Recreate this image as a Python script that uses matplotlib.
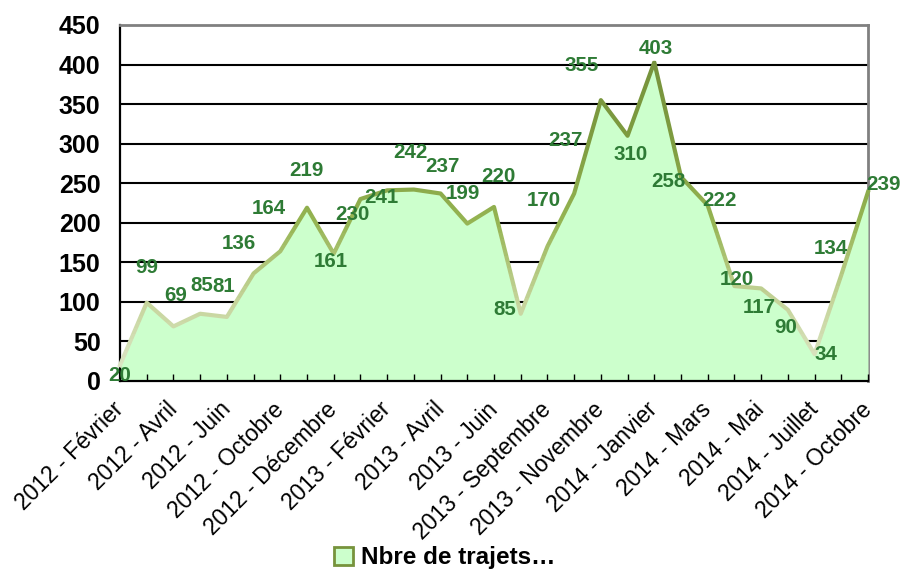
import numpy as np
import matplotlib.pyplot as plt
from matplotlib.colors import LinearSegmentedColormap
from matplotlib.patches import Rectangle, Patch

plt.rcParams['font.family'] = ['Liberation Sans', 'DejaVu Sans']

# ---- données ----
mois = ['2012 - Février', '2012 - Mars', '2012 - Avril', '2012 - Mai', '2012 - Juin',
        '2012 - Septembre', '2012 - Octobre', '2012 - Novembre', '2012 - Décembre',
        '2013 - Janvier', '2013 - Février', '2013 - Mars', '2013 - Avril', '2013 - Mai',
        '2013 - Juin', '2013 - Juillet', '2013 - Septembre', '2013 - Octobre',
        '2013 - Novembre', '2013 - Décembre', '2014 - Janvier', '2014 - Février',
        '2014 - Mars', '2014 - Avril', '2014 - Mai', '2014 - Juin', '2014 - Juillet',
        '2014 - Septembre', '2014 - Octobre']
trajets = [20, 99, 69, 85, 81, 136, 164, 219, 161, 230, 241, 242, 237, 199, 220,
           85, 170, 237, 355, 310, 403, 258, 222, 120, 117, 90, 34, 134, 239]
yticks = [0, 50, 100, 150, 200, 250, 300, 350, 400, 450]

# décalage des étiquettes (pixels) par point
label_dx = [0, 0, 2, 2, -3, -15, -11, -1, -3, -8, -6, -3, 2, -4, 4,
            -16, -4, -9, -19, 3, 2, -13, 12, 2, -2, -2, 11, -10, 16]
label_dy = [-10, 35, 31, 28, 30, 30, 43, 37, -8, -15, -7, 37, 27, 30, 30,
            4, 46, 53, 35, -19, 14, -5, 5, 7, -19, -18, 0, 26, 7]

vert_fond = '#CCFFCC'
vert_texte = '#2E7B35'

fig = plt.figure(figsize=(9, 5.74), dpi=100)
ax = fig.add_axes([120/900, 1 - 381/574, 748/900, 356/574])

x = np.arange(len(trajets))
ax.set_xlim(0, len(trajets) - 1)
ax.set_ylim(0, 450)

# grille horizontale sous la surface
for v in yticks[1:-1]:
    ax.axhline(v, color='black', lw=1.5, zorder=1)

ax.fill_between(x, trajets, 0, color=vert_fond, lw=0, zorder=2)

# ligne avec dégradé vertical (bandes découpées)
cmap = LinearSegmentedColormap.from_list(
    'vert', [(0.0, '#E0E8CC'), (0.25, '#C5D49A'), (0.5, '#95B452'),
             (0.75, '#7E9C40'), (1.0, '#76923C')])
bandes = np.linspace(0, 450, 61)
for lo, hi in zip(bandes[:-1], bandes[1:]):
    ligne, = ax.plot(x, trajets, color=cmap(min((lo + hi) / 2 / 403, 1)),
                     lw=3, zorder=3, solid_joinstyle='round')
    ligne.set_clip_path(Rectangle((-1, lo), len(trajets) + 2, hi - lo,
                                  transform=ax.transData))

# étiquettes de données
for i, v in enumerate(trajets):
    ax.annotate(str(v), (x[i], v), xytext=(label_dx[i], label_dy[i]),
                textcoords='offset pixels', ha='center', va='center',
                fontsize=14.8, fontweight='bold', color=vert_texte, zorder=5,
                annotation_clip=False)

# axes
ax.set_yticks(yticks)
ax.set_yticklabels([str(v) for v in yticks], fontsize=18, fontweight='bold')
ax.tick_params(axis='y', length=0, pad=14)

ax.set_xticks(x[::2])
ax.set_xticks(x, minor=True)
ax.set_xticklabels(mois[::2], rotation=45, ha='right', va='center',
                   rotation_mode='anchor', fontsize=16.5)
ax.tick_params(axis='x', which='both', direction='in', length=5, width=1,
               color='black', pad=18)
ax.set_axisbelow(False)

for s in ['left', 'bottom']:
    ax.spines[s].set_color('black')
    ax.spines[s].set_linewidth(1.6)
for s in ['top', 'right']:
    ax.spines[s].set_color('#808080')
    ax.spines[s].set_linewidth(2)
ax.spines['right'].set_zorder(1)

# légende
poignee = Patch(facecolor=vert_fond, edgecolor='#77933C', linewidth=2)
fig.legend([poignee], ['Nbre de trajets…'], loc='center',
           bbox_to_anchor=(0.494, 0.028), frameon=False, handlelength=0.8,
           handleheight=0.8, handletextpad=0.3,
           prop={'size': 17.5, 'weight': 'bold'})

fig.savefig('out.png', dpi=100)
